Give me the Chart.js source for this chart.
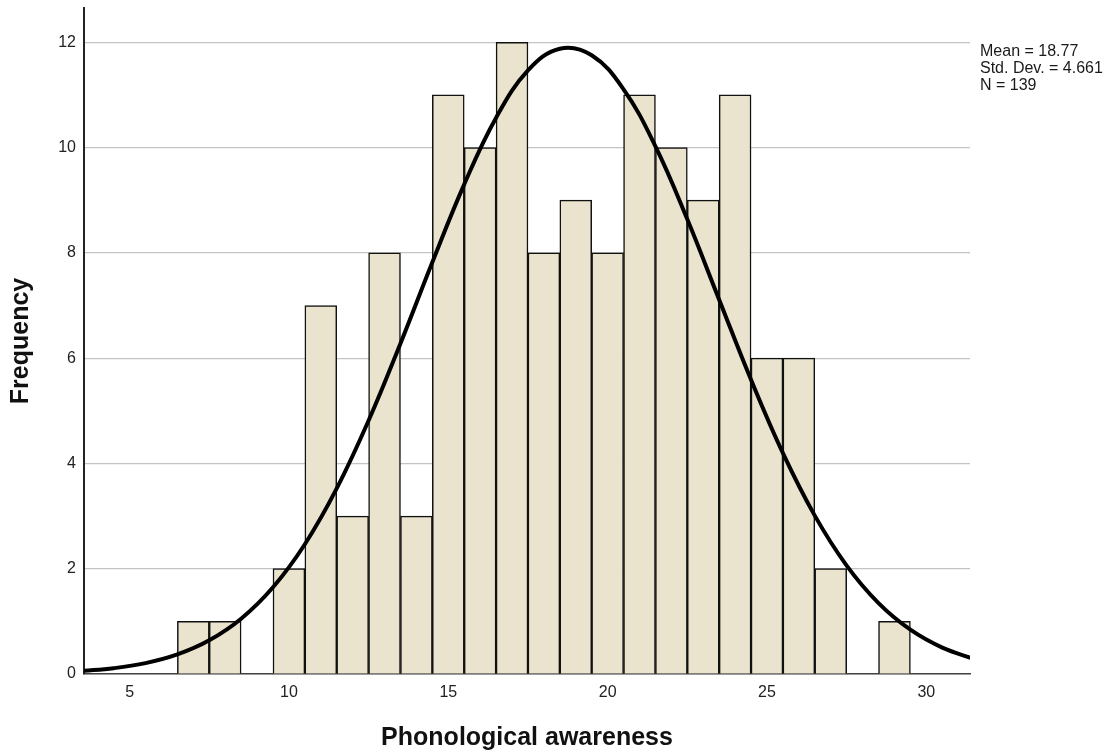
<!DOCTYPE html>
<html>
<head>
<meta charset="utf-8">
<script src="https://cdn.jsdelivr.net/npm/chart.js@4/dist/chart.umd.min.js"></script>
<style>
  html, body { margin: 0; padding: 0; background: #ffffff; }
  #wrap { width: 1116px; height: 756px; position: relative; }
</style>
</head>
<body>
<div id="wrap"><canvas id="c"></canvas></div>
<script>
// Histogram bins (centre of each 1-unit bin) and their frequencies
const binCenters = [7, 8, 10, 11, 12, 13, 14, 15, 16, 17, 18, 19, 20, 21, 22, 23, 24, 25, 26, 27, 29];
const frequencies = [1, 1, 2, 7, 3, 8, 3, 11, 10, 12, 8, 9, 8, 11, 10, 9, 11, 6, 6, 2, 1];

// Normal curve at half-unit positions
const curveX = [3.5, 4.5, 5.5, 6.5, 7.5, 8.5, 9.5, 10.5, 11.5, 12.5, 13.5, 14.5, 15.5, 16.5, 17.5,
                18.5, 19.5, 20.5, 21.5, 22.5, 23.5, 24.5, 25.5, 26.5, 27.5, 28.5, 29.5, 30.5, 31.5];
const curveY = [0.056, 0.110, 0.207, 0.372, 0.640, 1.050, 1.647, 2.465, 3.525, 4.814, 6.278, 7.820, 9.301, 10.567, 11.464,
                11.877, 11.752, 11.105, 10.022, 8.637, 7.109, 5.588, 4.195, 3.008, 2.059, 1.347, 0.841, 0.501, 0.286];

// Axis texts and tick values
const xTitle = 'Phonological awareness';
const yTitle = 'Frequency';
const statsLines = ['Mean = 18.77', 'Std. Dev. = 4.661', 'N = 139'];
const xTicks = [5, 10, 15, 20, 25, 30];
const yTicks = [0, 2, 4, 6, 8, 10, 12];

const FONT = '"Liberation Sans", Arial, Helvetica, sans-serif';
Chart.defaults.font.family = FONT;

const barData = binCenters.map((x, i) => ({ x: x, y: frequencies[i] }));
const curveData = curveX.map((x, i) => ({ x: x, y: curveY[i] }));

const statsPlugin = {
  id: 'stats',
  afterDraw(chart) {
    const ctx = chart.ctx;
    ctx.save();
    ctx.font = '16px ' + FONT;
    ctx.fillStyle = '#1a1a1a';
    ctx.textAlign = 'left';
    ctx.textBaseline = 'alphabetic';
    const x = chart.chartArea.right + 10;
    statsLines.forEach((t, i) => ctx.fillText(t, x, 56 + i * 16.8));
    ctx.restore();
  }
};

new Chart(document.getElementById('c'), {
  type: 'bar',
  data: {
    datasets: [
      {
        type: 'line',
        data: curveData,
        borderColor: '#000000',
        borderWidth: 4,
        pointRadius: 0,
        tension: 0.4,
        fill: false,
        order: 0
      },
      {
        type: 'bar',
        data: barData,
        backgroundColor: '#EAE4CF',
        borderColor: '#111111',
        borderWidth: 1.5,
        barPercentage: 1,
        categoryPercentage: 1,
        order: 1
      }
    ]
  },
  plugins: [statsPlugin],
  options: {
    responsive: true,
    maintainAspectRatio: false,
    animation: false,
    devicePixelRatio: 1,
    layout: { padding: { left: 0, right: 146, top: 8, bottom: 0 } },
    plugins: { legend: { display: false }, tooltip: { enabled: false } },
    scales: {
      x: {
        type: 'linear',
        offset: false,
        bounds: 'data',
        min: 3.57,
        max: 31.37,
        afterFit(s) { s.height = 82; s.paddingLeft = 0; s.paddingRight = 0; s.paddingTop = 0; s.paddingBottom = 0; },
        afterBuildTicks(s) { s.ticks = xTicks.map(v => ({ value: v })); },
        grid: { display: false, offset: false, drawTicks: false },
        border: { display: true, color: '#444444', width: 1.5 },
        ticks: { color: '#222222', font: { size: 16 }, padding: 9, maxRotation: 0 },
        title: { display: true, text: xTitle, color: '#111111', font: { size: 25, weight: 'bold' }, padding: { top: 0, bottom: 3 } }
      },
      y: {
        type: 'linear',
        bounds: 'data',
        min: 0,
        max: 12.65,
        afterFit(s) { s.width = 84; s.paddingLeft = 0; s.paddingRight = 0; s.paddingTop = 0; s.paddingBottom = 0; },
        afterBuildTicks(s) { s.ticks = yTicks.map(v => ({ value: v })); },
        grid: { display: true, color: '#C4C4C4', lineWidth: 1.2, drawTicks: false },
        border: { display: true, color: '#222222', width: 2 },
        ticks: { color: '#222222', font: { size: 16 }, padding: 8 },
        title: { display: true, text: yTitle, color: '#111111', font: { size: 25, weight: 'bold' }, padding: { top: 6, bottom: 0 } }
      }
    }
  }
});
</script>
</body>
</html>
